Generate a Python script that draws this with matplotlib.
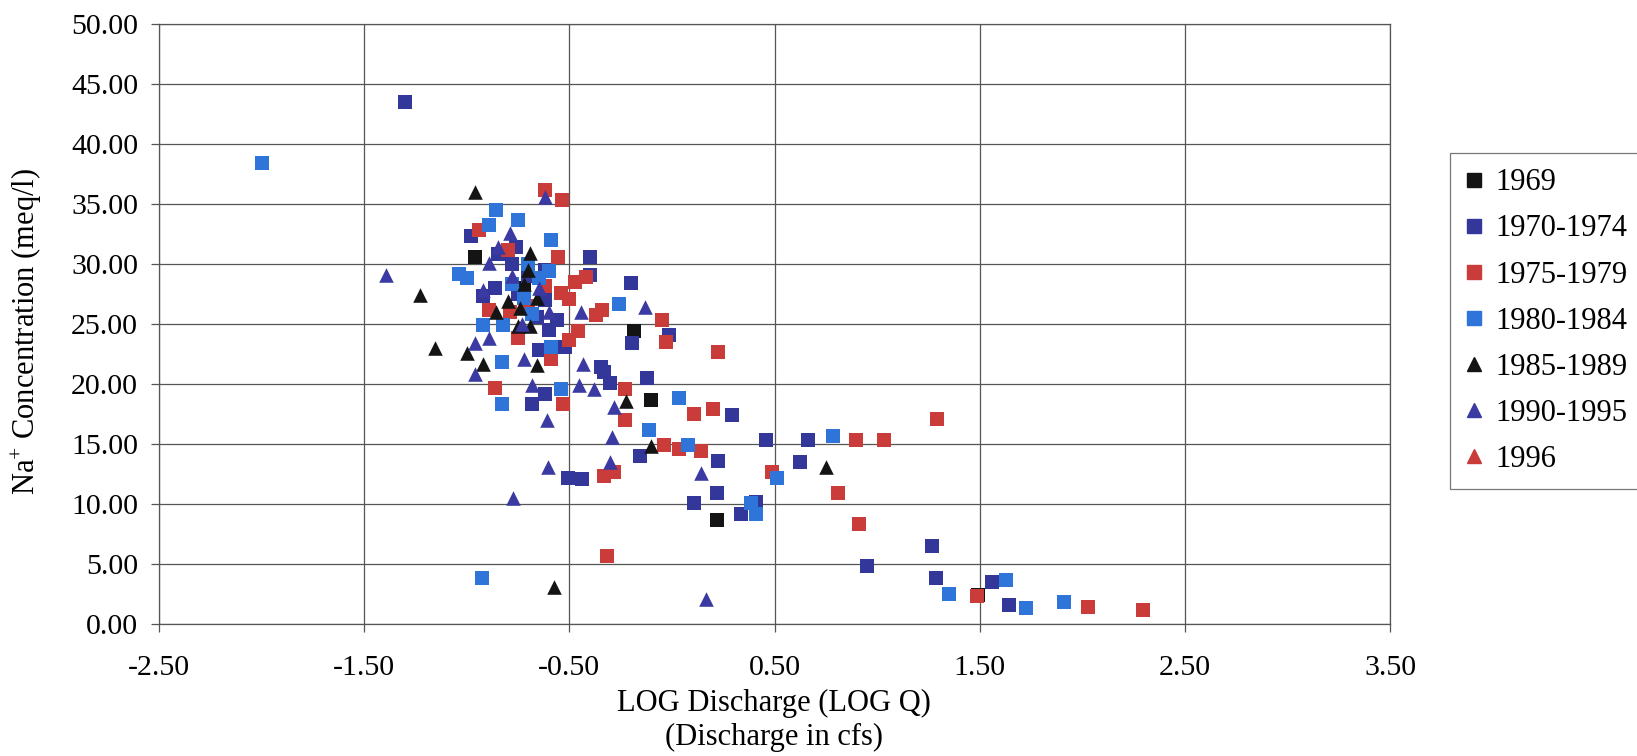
import matplotlib
matplotlib.use("Agg")
import matplotlib.pyplot as plt
from matplotlib.lines import Line2D

plt.rcParams['font.family'] = ['Liberation Serif', 'DejaVu Serif']
plt.rcParams['mathtext.fontset'] = 'custom'
plt.rcParams['mathtext.rm'] = 'Liberation Serif'
plt.rcParams['mathtext.it'] = 'Liberation Serif:italic'

# series data: (log Q, Na+ meq/l)
x_1969 = [-0.96, -0.72, -0.187, -0.10, 0.22, 1.49]
y_1969 = [30.6, 28.0, 24.4, 18.7, 8.7, 2.4]

x_7074 = [-1.30, -0.98, -0.76, -0.92, -0.40, -0.40, -0.20, -0.013, -0.195, -0.65,
          -0.52, -0.346, -0.33, -0.30, -0.12, -0.62, -0.68, 0.295, 0.457, 0.665,
          -0.156, 0.225, 0.22, 0.108, 0.335, 0.41, 0.624, 1.268, 0.95, 1.289,
          1.56, 1.641, -0.508, -0.438, -0.85, -0.78, -0.70, -0.75, -0.62, -0.66,
          -0.60, -0.86, -0.62, -0.56]
y_7074 = [43.5, 32.3, 31.4, 27.3, 30.6, 29.1, 28.4, 24.1, 23.4, 22.8,
          23.1, 21.4, 21.0, 20.1, 20.5, 19.2, 18.3, 17.4, 15.3, 15.3,
          14.0, 13.6, 10.95, 10.05, 9.2, 10.2, 13.5, 6.5, 4.8, 3.8,
          3.5, 1.6, 12.2, 12.06, 30.8, 30.0, 29.0, 27.5, 27.0, 25.6,
          24.5, 28.0, 29.5, 25.3]

x_7579 = [-0.62, -0.535, -0.94, -0.557, -0.47, -0.42, -0.54, -0.50, -0.37, -0.34,
          -0.046, -0.03, -0.46, -0.50, 0.227, -0.89, -0.79, -0.75, -0.59, -0.23,
          -0.86, -0.53, 0.11, 0.198, -0.23, -0.038, 0.035, 0.14, -0.33, -0.28,
          0.895, 1.033, 1.29, 0.486, 0.81, 0.911, 1.487, 2.03, 2.295, -0.314,
          -0.80, -0.70, -0.62]
y_7579 = [36.2, 35.3, 32.8, 30.6, 28.5, 28.9, 27.6, 27.1, 25.75, 26.2,
          25.3, 23.5, 24.4, 23.7, 22.7, 26.2, 26.0, 23.8, 22.1, 19.6,
          19.7, 18.3, 17.5, 17.9, 17.0, 14.9, 14.6, 14.4, 12.3, 12.7,
          15.3, 15.3, 17.05, 12.7, 10.95, 8.33, 2.3, 1.45, 1.17, 5.67,
          31.2, 26.5, 28.2]

x_8084 = [-2.0, -0.857, -0.75, -0.89, -0.59, -1.04, -1.0, -0.26, -0.92, -0.825,
          -0.83, -0.59, -0.54, -0.83, 0.035, -0.114, 0.076, 0.384, 0.41, 0.51,
          0.785, 1.35, 1.628, 1.727, 1.91, -0.927, -0.70, -0.65, -0.72, -0.60,
          -0.68, -0.78]
y_8084 = [38.4, 34.5, 33.7, 33.25, 32.0, 29.2, 28.8, 26.7, 24.9, 24.9,
          21.8, 23.1, 19.6, 18.3, 18.8, 16.2, 14.9, 10.05, 9.2, 12.2,
          15.7, 2.5, 3.67, 1.3, 1.86, 3.8, 30.0, 28.8, 27.2, 29.4,
          25.8, 28.3]

x_8589 = [-0.96, -0.69, -1.23, -0.857, -0.80, -0.75, -0.69, -1.157, -1.0, -0.92,
          -0.66, -0.224, -0.10, 0.75, -0.573, -0.70, -0.72, -0.66, -0.74]
y_8589 = [36.0, 30.9, 27.4, 26.0, 26.9, 24.8, 24.8, 23.0, 22.6, 21.7,
          21.6, 18.6, 14.8, 13.1, 3.1, 29.5, 28.3, 27.2, 26.3]

x_9095 = [-0.62, -0.79, -0.85, -0.89, -1.395, -0.92, -0.96, -0.89, -0.96, -0.72,
          -0.68, -0.61, -0.13, -0.443, -0.435, -0.455, -0.38, -0.28, -0.29, -0.30,
          0.14, -0.605, -0.776, 0.168, -0.78, -0.65, -0.60, -0.73]
y_9095 = [35.6, 32.6, 31.4, 30.1, 29.1, 27.8, 23.4, 23.8, 20.8, 22.1,
          19.9, 17.0, 26.4, 26.0, 21.7, 19.9, 19.6, 18.1, 15.6, 13.5,
          12.6, 13.06, 10.5, 2.05, 29.0, 28.0, 26.0, 25.0]

x_1996 = []
y_1996 = []

labels = ['1969', '1970-1974', '1975-1979', '1980-1984', '1985-1989', '1990-1995', '1996']
xs = [x_1969, x_7074, x_7579, x_8084, x_8589, x_9095, x_1996]
ys = [y_1969, y_7074, y_7579, y_8084, y_8589, y_9095, y_1996]
markers = ['s', 's', 's', 's', '^', '^', '^']
colors = ['#141414', '#34379a', '#c93c3a', '#2f74d8', '#141414', '#3a3aa2', '#c93c3a']

xticks = [-2.5, -1.5, -0.5, 0.5, 1.5, 2.5, 3.5]
yticks = [0, 5, 10, 15, 20, 25, 30, 35, 40, 45, 50]

fig = plt.figure(figsize=(16.37, 7.56), dpi=100)
ax = fig.add_axes([159/1637, 132/756, 1231/1637, 600/756])

for xv, yv, m, c in zip(xs, ys, markers, colors):
    ax.scatter(xv, yv, marker=m, s=110, c=c, linewidths=0, zorder=3)

ax.set_xlim(-2.5, 3.5)
ax.set_ylim(0, 50)
ax.set_xticks(xticks)
ax.set_yticks(yticks)
ax.set_xticklabels(['%.2f' % v for v in xticks])
ax.set_yticklabels(['%.2f' % v for v in yticks])
ax.grid(True, color='#555555', linewidth=0.9, zorder=0)
ax.set_axisbelow(True)
for sp in ax.spines.values():
    sp.set_color('#555555')
    sp.set_linewidth(0.9)
ax.tick_params(axis='x', direction='out', length=6, width=0.9, color='#555555',
               labelsize=21.5, pad=16)
ax.tick_params(axis='y', direction='out', length=6, width=0.9, color='#555555',
               labelsize=21.5, pad=9)

fig.text(27/1637, 1 - 331/756, r'Na$^{+}$ Concentration (meq/l)', rotation=90,
         ha='center', va='center', fontsize=22)
fig.text(774/1637, 1 - 703/756, 'LOG Discharge (LOG Q)', ha='center', va='center', fontsize=22)
fig.text(774/1637, 1 - 737/756, '(Discharge in cfs)', ha='center', va='center', fontsize=22)

handles = [Line2D([], [], linestyle='none', marker=m, color=c, markersize=9.5, label=l)
           for m, c, l in zip(markers, colors, labels)]
leg = fig.legend(handles=handles, loc='upper left',
                 bbox_to_anchor=(1450/1637, 1 - 153/756), fontsize=22,
                 frameon=True, fancybox=False, edgecolor='#555555',
                 handlelength=0.6, handletextpad=0.4, labelspacing=0.56,
                 borderpad=0.5, borderaxespad=0)
leg.get_frame().set_linewidth(0.9)

fig.savefig('out.png', dpi=100)
